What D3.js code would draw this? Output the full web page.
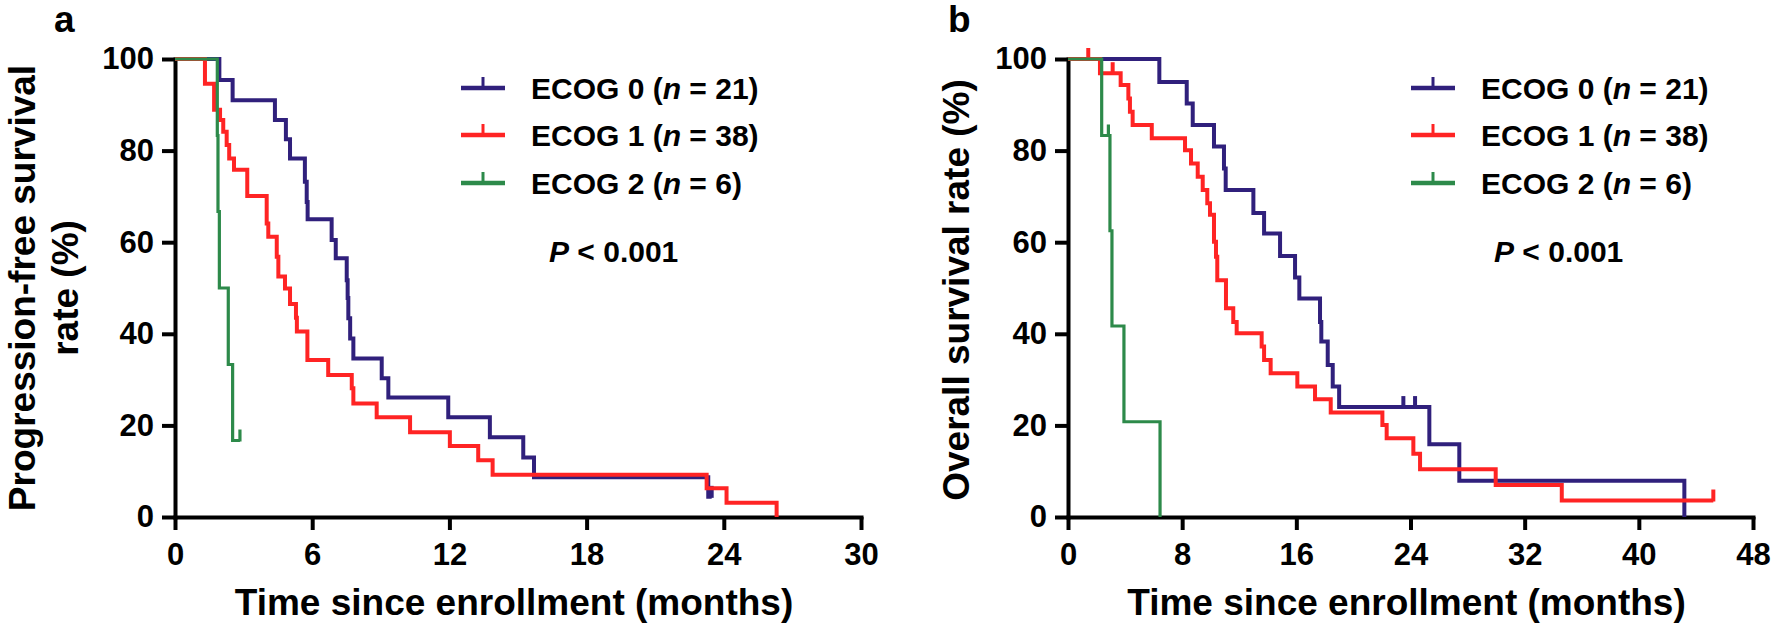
<!DOCTYPE html>
<html><head><meta charset="utf-8">
<script src="https://cdn.jsdelivr.net/npm/d3@7"></script>
<style>
body{margin:0;background:#fff}
text{font-family:"Liberation Sans",Arial,Helvetica,sans-serif;font-weight:bold;fill:#000}
</style>
</head><body>
<svg id="c" width="1772" height="625"></svg>
<script>
// ---------------- data ----------------
const groupNames = ["ECOG 0", "ECOG 1", "ECOG 2"];
const groupN = [21, 38, 6];
const yTicks = [0, 20, 40, 60, 80, 100];
const pfsXTicks = [0, 6, 12, 18, 24, 30];
const osXTicks = [0, 8, 16, 24, 32, 40, 48];
const pValue = "0.001";

// Panel a: progression-free survival (months, %)
const pfsT0 = [0, 1.94, 2.52, 4.37, 4.85, 5.03, 5.68, 5.76, 5.80, 6.85, 7.03, 7.51, 7.55, 7.58, 7.66, 7.80, 9.04, 9.33, 11.95, 13.77, 15.23, 15.70, 23.32, 23.47];
const pfsS0 = [100, 95.4, 91.0, 86.7, 82.5, 78.3, 73.2, 68.8, 65.0, 60.5, 56.5, 51.7, 47.8, 43.4, 39.0, 34.6, 30.3, 26.1, 21.8, 17.4, 13.0, 8.7, 4.4, 4.4];
const pfsC0 = [23.47];

const pfsT1 = [0, 1.31, 1.71, 1.97, 2.11, 2.26, 2.37, 2.58, 3.16, 4.01, 4.08, 4.45, 4.52, 4.81, 5.03, 5.29, 5.33, 5.79, 6.70, 7.73, 7.80, 8.82, 10.28, 12.02, 13.26, 13.89, 23.25, 24.12, 26.31];
const pfsS1 = [100, 94.6, 88.9, 86.7, 84.1, 81.2, 78.3, 75.8, 70.1, 64.1, 61.2, 56.8, 52.5, 49.9, 46.5, 43.5, 40.5, 34.3, 31.0, 28.1, 24.8, 21.8, 18.5, 15.5, 12.4, 9.2, 6.3, 3.1, 0];
const pfsC1 = [];

const pfsT2 = [0, 1.85, 1.88, 1.94, 2.33, 2.52, 2.84];
const pfsS2 = [100, 83.3, 66.7, 50.0, 33.3, 16.7, 16.7];
const pfsC2 = [2.84];

// Panel b: overall survival (months, %)
const osT0 = [0, 6.40, 8.32, 8.74, 10.23, 10.93, 11.05, 12.99, 13.74, 14.86, 15.91, 16.21, 17.66, 17.75, 18.20, 18.55, 19.00, 25.32, 27.42, 43.19];
const osS0 = [100, 95.0, 90.3, 85.6, 80.9, 76.1, 71.4, 66.4, 61.9, 57.0, 52.3, 47.7, 42.6, 38.3, 33.2, 28.5, 24.0, 15.9, 7.9, 0];
const osC0 = [23.5, 24.32];

const osT1 = [0, 2.24, 3.69, 4.23, 4.34, 4.53, 5.87, 8.20, 8.62, 9.09, 9.44, 9.76, 9.95, 10.23, 10.37, 10.46, 11.07, 11.58, 11.82, 13.57, 13.74, 14.20, 16.07, 17.31, 18.41, 22.03, 22.33, 24.20, 24.67, 29.97, 34.60, 45.22];
const osS1 = [100, 96.9, 94.3, 91.4, 88.5, 85.6, 82.7, 80.1, 77.2, 74.3, 71.4, 68.5, 66.0, 60.1, 56.8, 51.7, 45.6, 42.6, 40.1, 37.2, 34.3, 31.4, 28.5, 25.7, 22.8, 20.1, 17.2, 13.8, 10.4, 7.0, 3.6, 3.6];
const osC1 = [1.42, 3.13, 45.22];

const osT2 = [0, 2.36, 2.94, 3.08, 3.92, 6.45];
const osS2 = [100, 83.3, 62.5, 41.7, 20.8, 0];
const osC2 = [2.83];

// ---------------- drawing ----------------
const colors = ["#30207c", "#ff2424", "#2d8a4a"];
const widths = [4, 4, 3.2];
const svg = d3.select("#c");
svg.append("rect").attr("width", 1772).attr("height", 625).attr("fill", "#fff");

const y = d3.scaleLinear().domain([0, 100]).range([517, 59]);

function panel(o) {
  const x = d3.scaleLinear().domain(o.xDomain).range(o.xRange);
  const g = svg.append("g");

  // axes
  const ya = g.append("g").attr("transform", `translate(${o.xRange[0]},0)`)
    .call(d3.axisLeft(y).tickValues(yTicks).tickSize(13).tickSizeOuter(0).tickPadding(8));
  const xa = g.append("g").attr("transform", `translate(0,${y(0)})`)
    .call(d3.axisBottom(x).tickValues(o.xTicks).tickSize(13).tickSizeOuter(0).tickPadding(13));
  [ya, xa].forEach(a => {
    a.attr("font-family", null).attr("font-size", null);
    a.select(".domain").attr("stroke", "#000").attr("stroke-width", 4).attr("stroke-linecap", "square");
    a.selectAll(".tick line").attr("stroke", "#000").attr("stroke-width", 4);
    a.selectAll(".tick text").attr("font-size", 31).attr("fill", "#000");
  });

  // curves
  const line = d3.line().x(d => x(d[0])).y(d => y(d[1])).curve(d3.curveStepAfter);
  o.series.forEach((s, i) => {
    g.append("path").attr("d", line(d3.zip(s.t, s.s)))
      .attr("fill", "none").attr("stroke", colors[i]).attr("stroke-width", widths[i]);
    s.c.forEach(ct => {
      const lvl = s.s[d3.bisectRight(s.t, ct) - 1];
      g.append("line").attr("x1", x(ct)).attr("x2", x(ct))
        .attr("y1", y(lvl) + 1).attr("y2", y(lvl) - 11)
        .attr("stroke", colors[i]).attr("stroke-width", widths[i]);
    });
  });

  // legend
  const legY = [88, 135, 183];
  groupNames.forEach((nm, i) => {
    const lg = g.append("g");
    lg.append("line").attr("x1", o.legX).attr("x2", o.legX + 44).attr("y1", legY[i]).attr("y2", legY[i])
      .attr("stroke", colors[i]).attr("stroke-width", 4.5);
    lg.append("line").attr("x1", o.legX + 22).attr("x2", o.legX + 22).attr("y1", legY[i]).attr("y2", legY[i] - 11)
      .attr("stroke", colors[i]).attr("stroke-width", 3);
    const t = lg.append("text").attr("x", o.legX + 70).attr("y", legY[i] + 11).attr("font-size", 30);
    t.append("tspan").text(nm + " (");
    t.append("tspan").attr("font-style", "italic").text("n");
    t.append("tspan").text(" = " + groupN[i] + ")");
  });

  // p value
  const pt = g.append("text").attr("x", o.pX).attr("y", 262).attr("font-size", 30);
  pt.append("tspan").attr("font-style", "italic").text("P");
  pt.append("tspan").text(" < " + pValue);

  // axis titles
  g.append("text").attr("x", (o.xRange[0] + o.xRange[1]) / 2 - 4).attr("y", 615)
    .attr("text-anchor", "middle").attr("font-size", 37).text("Time since enrollment (months)");
  o.yTitle.forEach((ln, k) => {
    g.append("text").attr("transform", `translate(${o.yTitleX[k]},${o.yTitleY}) rotate(-90)`)
      .attr("text-anchor", "middle").attr("font-size", 37).text(ln);
  });

  // panel label
  g.append("text").attr("x", o.labX).attr("y", 32).attr("font-size", 37).text(o.label);
}

panel({
  xDomain: [0, 30], xRange: [175, 861], xTicks: pfsXTicks,
  series: [
    {t: pfsT0, s: pfsS0, c: pfsC0},
    {t: pfsT1, s: pfsS1, c: pfsC1},
    {t: pfsT2, s: pfsS2, c: pfsC2}
  ],
  legX: 461, pX: 549,
  yTitle: ["Progression-free survival", "rate (%)"], yTitleX: [35, 78], yTitleY: 288,
  label: "a", labX: 54
});

panel({
  xDomain: [0, 48], xRange: [1068, 1753], xTicks: osXTicks,
  series: [
    {t: osT0, s: osS0, c: osC0},
    {t: osT1, s: osS1, c: osC1},
    {t: osT2, s: osS2, c: osC2}
  ],
  legX: 1411, pX: 1494,
  yTitle: ["Overall survival rate (%)"], yTitleX: [969], yTitleY: 290,
  label: "b", labX: 948
});
</script>
</body></html>
